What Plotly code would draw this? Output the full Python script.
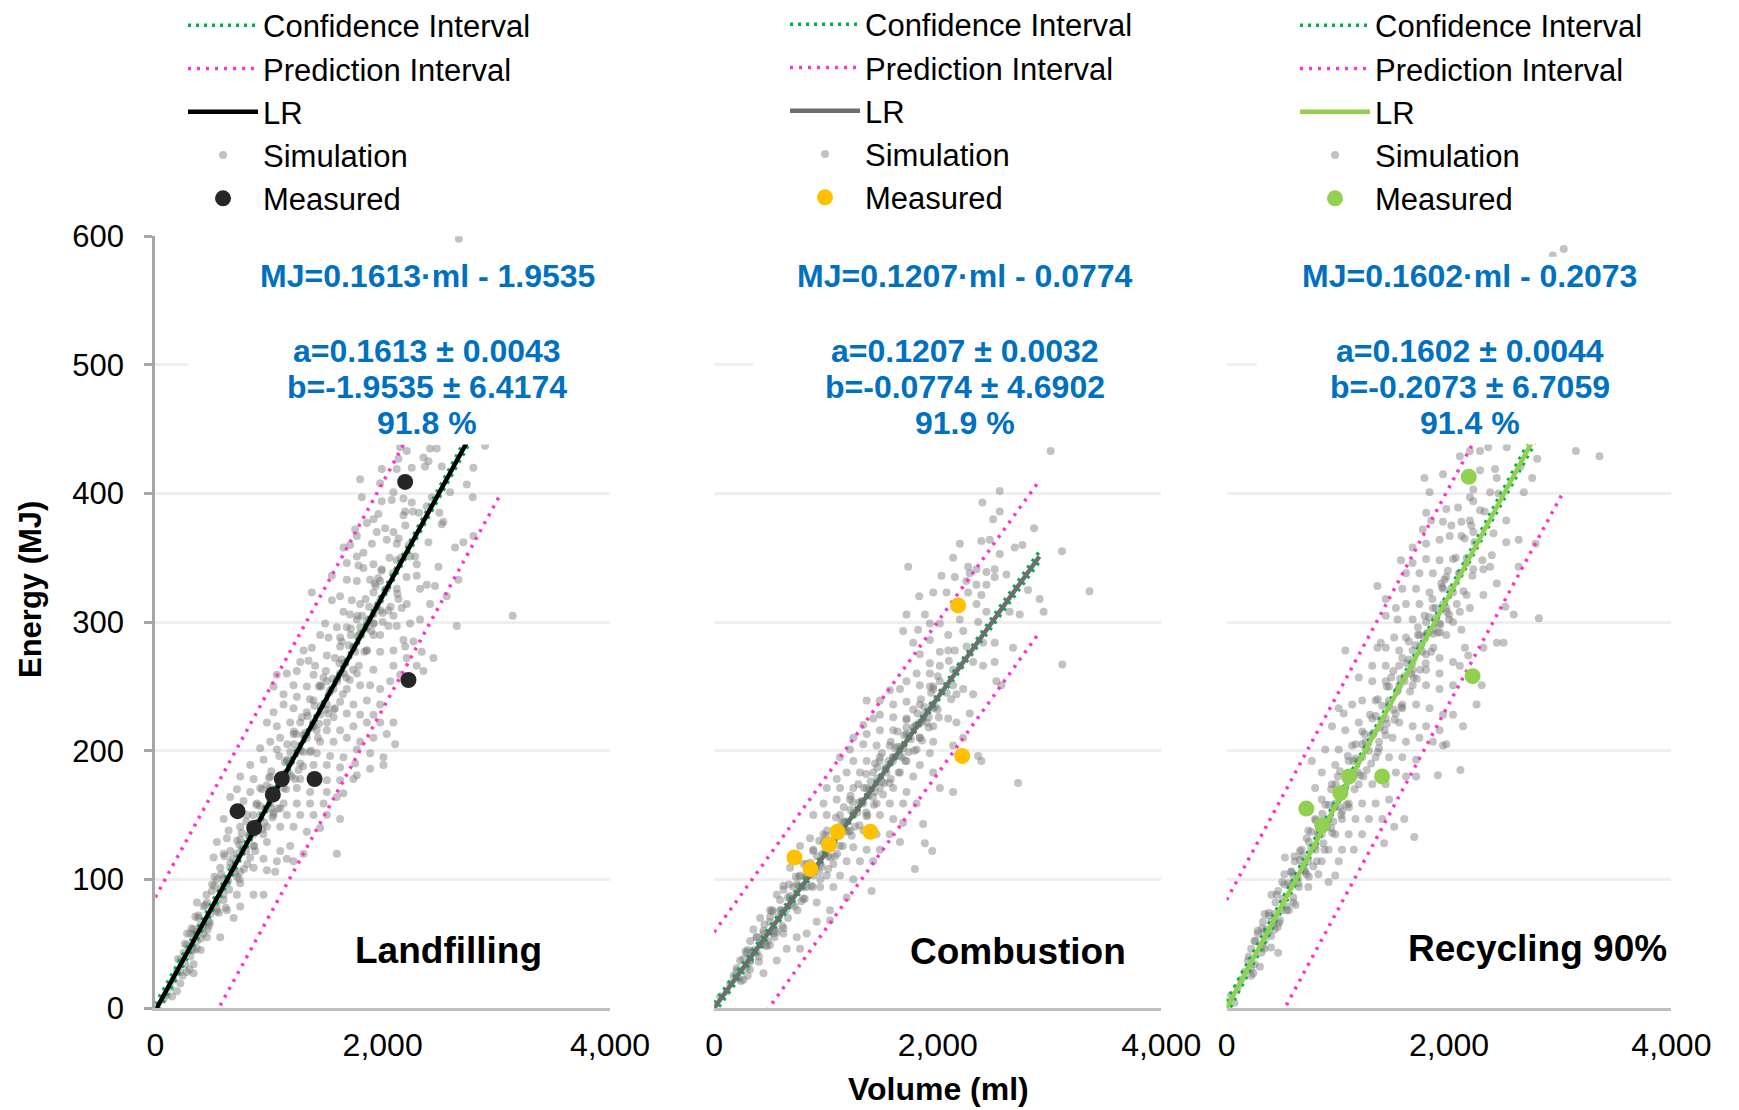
import plotly.graph_objects as go

# %% [Data]
vol_ticks = [0, 2000, 4000]
energy_ticks = [0, 100, 200, 300, 400, 500, 600]

land_sim = [
    (2670, 598),
    (2154, 436), (2212, 433), (2417, 435), (2476, 435), (2901, 437), (2139, 427), (2124, 419), (2359, 428),
    (2403, 425), (2373, 421), (1992, 419), (2256, 420), (1802, 411), (1978, 408), (2095, 401), (2183, 396),
    (2256, 393), (2080, 395), (1817, 397), (1992, 394), (2798, 420), (2740, 407), (2593, 401), (2520, 421),
    (2792, 397), (2198, 386), (2183, 383), (2265, 386), (2499, 385), (2388, 390), (2432, 397), (2520, 376),
    (2534, 378), (1963, 384), (1919, 380), (1861, 377), (2022, 373), (2095, 370), (1948, 370), (1773, 367),
    (1758, 372), (1655, 358), (1714, 360), (1831, 354), (1905, 361), (2036, 364), (2124, 361), (2241, 351),
    (2285, 351), (2403, 362), (2637, 358), (2710, 362), (2798, 367), (2491, 343), (1773, 351), (1831, 342),
    (1787, 344), (1919, 345), (1992, 341), (1685, 346), (2124, 348), (1553, 336), (1377, 323), (1553, 317),
    (1626, 320), (1685, 333), (1773, 332), (1890, 333), (1978, 332), (1919, 323), (2036, 326), (2124, 326),
    (2300, 336), (2388, 329), (2461, 328), (2139, 318), (2168, 311), (2051, 309), (1919, 306), (1802, 314),
    (1729, 317), (1655, 308), (1714, 306), (1773, 302), (1861, 300), (1978, 317), (2095, 305), (2212, 314),
    (2329, 326), (2666, 333), (2564, 320), (2417, 314), (2329, 302), (2241, 299), (2652, 297), (3144, 305),
    (1494, 299), (1450, 290), (1597, 296), (1524, 288), (1626, 288), (1685, 296), (1802, 296), (1919, 299),
    (2051, 297), (2124, 297), (1978, 290), (1377, 280), (1304, 278), (1275, 269), (1348, 270), (1406, 266),
    (1509, 274), (1626, 281), (1743, 281), (1861, 278), (1978, 277), (2095, 278), (2183, 286), (2198, 281),
    (2271, 285), (2344, 277), (2447, 272), (2359, 262), (2212, 272), (2095, 266), (1919, 263), (1773, 260),
    (1626, 260), (1509, 254), (1392, 259), (1245, 262), (1157, 260), (1069, 259), (1040, 250), (1216, 251),
    (1333, 250), (1450, 251), (1568, 248), (1685, 248), (1802, 251), (1890, 251), (1978, 248), (2066, 254),
    (2154, 259), (2300, 266), (1128, 244), (1245, 242), (1392, 239), (1509, 236), (1626, 238), (1743, 236),
    (1861, 239), (1978, 236), (1919, 228), (1802, 228), (1685, 229), (1568, 226), (1450, 228), (1333, 230),
    (1216, 233), (1128, 236), (1040, 230), (982, 222), (1069, 219), (1187, 222), (1275, 222), (1392, 219),
    (1509, 216), (1626, 216), (1743, 219), (1861, 222), (1978, 222), (2095, 222), (2036, 213), (1919, 210),
    (1802, 207), (1685, 210), (1568, 207), (1450, 207), (1333, 210), (1216, 213), (1099, 210), (1011, 207),
    (923, 202), (1069, 201), (1187, 199), (1304, 199), (1421, 198), (1538, 196), (1655, 195), (1773, 201),
    (1890, 198), (2007, 195), (2110, 205), (2007, 189), (1890, 186), (1758, 190), (1626, 187), (1509, 189),
    (1392, 189), (1275, 190), (1157, 192), (952, 193), (835, 189), (864, 178), (747, 180), (923, 171),
    (1011, 180), (1157, 183), (1275, 178), (1392, 177), (1509, 177), (1626, 177), (1743, 178), (1773, 181),
    (1655, 167), (1509, 168), (1362, 168), (1245, 171), (1128, 171), (1011, 171), (835, 168), (718, 170),
    (659, 164), (776, 161), (894, 159), (1011, 159), (1128, 159), (1245, 159), (1362, 159), (1480, 159),
    (1597, 164), (1626, 147), (1509, 150), (1392, 150), (1275, 150), (1157, 150), (1040, 150), (923, 150),
    (806, 150), (689, 152), (601, 147), (645, 138), (747, 141), (864, 135), (982, 141), (1099, 141),
    (1216, 141), (1333, 137), (1450, 140), (1597, 120), (1304, 120), (1187, 126), (1099, 122), (982, 129),
    (864, 126), (747, 131), (630, 132), (542, 129), (513, 117), (601, 120), (718, 120), (835, 117),
    (952, 116), (1069, 114), (1157, 116), (1216, 114), (571, 109), (659, 109), (747, 106), (864, 109),
    (982, 107), (1055, 106), (542, 100), (630, 97), (747, 97), (864, 88), (952, 88), (747, 79),
    (718, 88), (601, 88), (498, 91), (454, 82), (542, 82), (630, 76), (689, 70), (483, 73),
    (425, 79), (366, 82), (352, 71), (469, 67), (337, 61), (396, 64), (425, 58), (308, 58),
    (366, 52), (454, 55), (571, 55), (278, 49), (366, 46), (249, 43), (308, 40), (220, 37),
    (264, 34), (337, 34), (190, 28), (278, 28), (337, 27), (161, 22), (220, 19), (132, 16),
    (190, 13), (103, 10), (73, 7), (147, 9),
    # dense core along the fit
    (320, 62), (340, 45), (380, 70), (400, 54), (450, 88), (470, 64), (520, 95), (540, 75),
    (580, 104), (600, 84), (610, 118), (650, 92), (660, 122), (680, 108), (720, 130), (740, 100),
    (760, 124), (800, 145), (810, 112), (830, 134), (870, 126), (890, 158), (900, 144), (940, 170),
    (950, 135), (970, 155), (1020, 184), (1030, 148), (1050, 168), (1080, 155), (1090, 196), (1110, 180),
    (1150, 170), (1160, 205), (1180, 190), (1220, 215), (1230, 178), (1250, 200), (1290, 226), (1300, 188),
    (1320, 212), (1360, 240), (1370, 200), (1390, 222), (1430, 210), (1440, 250), (1460, 235), (1500, 262),
    (1510, 222), (1530, 245), (1570, 232), (1580, 272), (1600, 256), (1640, 285), (1650, 244), (1670, 268),
    (1710, 255), (1720, 295), (1740, 280), (1780, 305), (1790, 266), (1810, 290), (1850, 318), (1860, 278),
    (1880, 302), (1920, 290), (1930, 330), (1950, 312), (1990, 340), (2000, 300), (2020, 325), (2060, 350),
    (2070, 312), (2090, 338), (2130, 322), (2140, 365), (2160, 350), (2200, 375), (2210, 335), (2230, 360),
    (2300, 345), (2320, 385),
    (200, 38), (240, 25), (280, 58), (320, 45), (360, 59), (400, 45), (440, 80), (480, 66),
    (520, 102), (560, 74), (600, 101), (640, 99), (680, 116), (720, 102), (760, 136), (800, 122),
    (840, 137), (880, 122), (920, 157), (960, 144), (1000, 179), (1040, 152), (1080, 178), (1120, 177),
    (1160, 193), (1200, 180), (1240, 213), (1280, 200), (1320, 214), (1360, 199), (1400, 235), (1440, 221),
    (1480, 257), (1520, 229), (1560, 256), (1600, 254), (1640, 271), (1680, 257), (1720, 290), (1760, 277),
    (1800, 291), (1840, 277), (1880, 312), (1920, 299), (1960, 334), (2000, 307),
    (220, 28), (260, 50), (300, 30), (340, 57), (380, 72), (420, 63), (460, 61), (500, 96),
    (540, 77), (580, 93), (620, 78), (660, 113), (700, 105), (740, 127), (780, 108), (820, 134),
    (860, 150), (900, 140), (940, 139), (980, 173), (1020, 155), (1060, 170), (1100, 155), (1140, 191),
    (1180, 182), (1220, 205), (1260, 185), (1300, 212), (1340, 227), (1380, 218), (1420, 216), (1460, 250),
    (1500, 232), (1540, 247), (1580, 233), (1620, 268), (1660, 260), (1700, 282), (1740, 263), (1780, 289),
    (1820, 305), (1860, 295), (1900, 293), (1940, 328), (1980, 309),
]

comb_sim = [
    (3011, 433), (2555, 402), (2400, 393), (2555, 386), (2496, 380), (2862, 373), (2198, 361), (2391, 363),
    (2466, 364), (2689, 358), (2758, 360), (2555, 353), (3112, 355), (3359, 324), (2138, 350), (1736, 343),
    (2272, 343), (2347, 341), (2436, 339), (2510, 341), (2510, 335), (2615, 337), (2034, 336), (2153, 335),
    (2287, 338), (2257, 332), (2347, 329), (2391, 321), (2436, 329), (1960, 323), (2079, 323), (1835, 320),
    (2272, 323), (2347, 314), (2436, 308), (2362, 300), (2808, 325), (2912, 318), (2644, 308), (2734, 306),
    (2948, 308), (1885, 306), (1721, 306), (2019, 299), (2198, 302), (2228, 293), (2094, 290), (1930, 299),
    (1691, 293), (1825, 294), (1930, 286), (1781, 284), (2019, 277), (2094, 278), (2153, 278), (2257, 281),
    (2406, 284), (2510, 284), (2674, 280), (3115, 267), (2317, 269), (2406, 266), (2510, 269), (2525, 254),
    (2570, 251), (1840, 275), (1930, 268), (2019, 266), (2138, 263), (2198, 266), (1811, 260), (1930, 260),
    (2019, 254), (2138, 251), (2228, 248), (2317, 244), (2168, 244), (2079, 245), (1960, 248), (1840, 251),
    (1721, 254), (1662, 248), (1572, 247), (1483, 239), (1364, 239), (1602, 236), (1721, 238), (1840, 236),
    (1960, 233), (2094, 225), (2168, 222), (2287, 229), (2228, 210), (2138, 204), (1960, 219), (1840, 222),
    (1721, 225), (1602, 226), (1483, 228), (1423, 225), (1334, 220), (1245, 210), (1364, 213), (1483, 216),
    (1602, 216), (1721, 213), (1840, 210), (1960, 207), (1930, 198), (1811, 201), (1691, 202), (1572, 204),
    (1453, 204), (1334, 205), (1215, 201), (1126, 195), (1245, 192), (1364, 192), (1483, 195), (1602, 195),
    (1721, 192), (1840, 189), (1960, 183), (2019, 171), (2138, 168), (2362, 196), (2391, 192), (2719, 175),
    (1781, 180), (1662, 183), (1542, 183), (1423, 183), (1304, 183), (1185, 183), (1096, 178), (1007, 171),
    (1126, 171), (1245, 171), (1364, 171), (1483, 171), (1602, 171), (1721, 168), (1811, 159), (1691, 159),
    (1572, 159), (1453, 159), (1334, 159), (1215, 162), (1096, 162), (978, 159), (887, 150), (1007, 150),
    (1126, 150), (1245, 150), (1364, 149), (1483, 150), (1602, 147), (1691, 144), (1870, 143), (1662, 129),
    (1572, 135), (1453, 135), (1334, 138), (1215, 138), (1096, 137), (978, 135), (858, 132), (768, 126),
    (887, 123), (1007, 123), (1126, 126), (1245, 125), (1364, 123), (1483, 123), (1885, 128), (1951, 122),
    (1796, 108), (1423, 114), (1304, 114), (1185, 114), (1066, 112), (948, 112), (828, 112), (679, 109),
    (768, 103), (887, 103), (1007, 103), (1126, 103), (1245, 100), (1408, 91), (1185, 86), (1066, 94),
    (948, 94), (828, 94), (709, 94), (619, 95), (560, 88), (679, 85), (798, 85), (917, 82),
    (1037, 76), (1037, 68), (917, 67), (828, 58), (738, 55), (768, 46), (649, 46), (560, 37),
    (441, 27), (500, 76), (590, 76), (500, 67), (411, 70), (351, 61), (441, 58), (530, 58),
    (619, 58), (322, 52), (411, 51), (500, 49), (292, 43), (381, 43), (232, 37), (322, 37),
    (203, 31), (292, 31), (173, 25), (262, 22), (143, 19), (113, 13), (54, 9),
    # dense core along the fit
    (300, 45), (320, 30), (380, 55), (400, 40), (450, 65), (470, 48), (520, 75), (540, 55),
    (590, 84), (610, 64), (620, 92), (660, 70), (670, 96), (690, 84), (730, 102), (745, 76),
    (760, 95), (800, 112), (810, 85), (830, 102), (870, 95), (885, 122), (900, 110), (940, 130),
    (950, 100), (970, 120), (1010, 138), (1020, 108), (1040, 128), (1080, 118), (1090, 148), (1110, 136),
    (1150, 126), (1160, 156), (1180, 145), (1220, 165), (1230, 134), (1250, 152), (1290, 174), (1300, 142),
    (1320, 160), (1360, 182), (1370, 150), (1390, 170), (1430, 158), (1440, 190), (1460, 178), (1500, 198),
    (1510, 166), (1530, 186), (1570, 175), (1580, 207), (1600, 195), (1640, 215), (1650, 183), (1670, 203),
    (1710, 192), (1720, 224), (1740, 212), (1780, 232), (1790, 200), (1810, 220), (1850, 240), (1860, 208),
    (1880, 228), (1920, 218), (1930, 250), (1950, 236), (2000, 258), (2010, 226), (2100, 270), (2120, 240),
    (200, 29), (240, 21), (280, 44), (320, 36), (360, 45), (400, 36), (440, 60), (480, 52),
    (520, 76), (560, 59), (600, 76), (640, 76), (680, 87), (720, 79), (760, 102), (800, 94),
    (840, 103), (880, 94), (920, 118), (960, 110), (1000, 134), (1040, 117), (1080, 134), (1120, 134),
    (1160, 145), (1200, 137), (1240, 160), (1280, 152), (1320, 161), (1360, 152), (1400, 176), (1440, 168),
    (1480, 192), (1520, 175), (1560, 192), (1600, 192), (1640, 203), (1680, 195), (1720, 218), (1760, 209),
    (1800, 219), (1840, 210), (1880, 234), (1920, 226), (1960, 250), (2000, 232),
    (220, 23), (260, 38), (300, 25), (340, 44), (380, 55), (420, 49), (460, 49), (500, 71),
    (540, 60), (580, 71), (620, 62), (660, 86), (700, 81), (740, 96), (780, 83), (820, 102),
    (860, 113), (900, 107), (940, 106), (980, 129), (1020, 118), (1060, 129), (1100, 120), (1140, 144),
    (1180, 138), (1220, 154), (1260, 141), (1300, 160), (1340, 171), (1380, 165), (1420, 164), (1460, 187),
    (1500, 176), (1540, 187), (1580, 178), (1620, 202), (1660, 196), (1700, 212), (1740, 199), (1780, 218),
    (1820, 229), (1860, 223), (1900, 222), (1940, 245), (1980, 234),
]

recy_sim = [
    (3032, 590), (2933, 585),
    (2188, 433), (2279, 433), (2353, 436), (2520, 436), (2793, 427), (3141, 433), (3353, 429), (2097, 429),
    (1779, 412), (1825, 401), (1946, 415), (2279, 418), (2414, 419), (2430, 412), (2218, 403), (2370, 401),
    (2445, 400), (2188, 397), (2218, 394), (2672, 401), (2748, 412), (2642, 421), (1795, 385), (1976, 388),
    (2082, 389), (2279, 387), (2188, 379), (2112, 378), (2021, 375), (1946, 378), (1840, 379), (1764, 372),
    (1673, 358), (1794, 361), (1915, 364), (2006, 367), (2112, 367), (2218, 370), (2400, 369), (2515, 379),
    (2515, 362), (2627, 364), (2779, 361), (2385, 352), (2369, 343), (2309, 341), (2627, 343), (2430, 330),
    (1568, 348), (1673, 346), (1794, 349), (1915, 348), (2036, 349), (2158, 346), (2218, 341), (2097, 338),
    (1976, 335), (1855, 338), (1734, 338), (1613, 338), (1356, 328), (1431, 318), (1580, 326), (1704, 326),
    (1825, 323), (1946, 326), (2036, 323), (2158, 321), (2309, 321), (2506, 312), (2582, 306), (2808, 303),
    (2188, 311), (2097, 308), (1976, 311), (1855, 311), (1734, 314), (1613, 314), (1522, 311), (1431, 305),
    (1537, 302), (1673, 302), (1794, 300), (1915, 299), (2036, 300), (2112, 294), (1976, 290), (1855, 291),
    (1734, 290), (1613, 288), (1507, 288), (1386, 284), (1356, 280), (1068, 278), (1431, 280), (1552, 278),
    (1673, 278), (1794, 275), (1915, 272), (2036, 269), (2143, 280), (2173, 274), (2430, 284), (2491, 284),
    (2309, 280), (2097, 266), (1915, 260), (1794, 263), (1673, 263), (1552, 266), (1431, 266), (1310, 266),
    (1189, 257), (1310, 254), (1431, 254), (1552, 251), (1673, 251), (1794, 251), (1915, 248), (2036, 251),
    (2294, 251), (2248, 236), (2127, 219), (2036, 228), (1946, 228), (1825, 233), (1704, 236), (1580, 236),
    (1461, 239), (1340, 239), (1219, 239), (1129, 236), (1008, 233), (1053, 229), (947, 219), (1068, 216),
    (1189, 222), (1310, 225), (1431, 225), (1552, 222), (1673, 219), (1794, 219), (1915, 216), (1976, 205),
    (1946, 204), (1855, 207), (1734, 210), (1613, 207), (1492, 210), (1371, 207), (1250, 207), (1129, 204),
    (1008, 201), (887, 201), (766, 192), (856, 183), (977, 189), (1098, 192), (1219, 195), (1340, 195),
    (1461, 195), (1580, 195), (1704, 193), (1900, 181), (2103, 185), (1522, 183), (1613, 180), (1704, 180),
    (1431, 174), (1310, 174), (1189, 174), (1068, 171), (947, 174), (796, 171), (856, 162), (977, 159),
    (1098, 159), (1219, 159), (1340, 159), (1461, 162), (1598, 147), (1507, 141), (1401, 147), (1280, 147),
    (1159, 147), (1038, 147), (917, 147), (796, 147), (735, 138), (856, 135), (977, 135), (1098, 135),
    (1219, 135), (1688, 133), (1416, 128), (1144, 123), (1038, 123), (917, 123), (796, 126), (675, 123),
    (524, 117), (614, 114), (735, 114), (856, 114), (1008, 114), (584, 106), (705, 106), (826, 104),
    (977, 103), (554, 97), (645, 97), (735, 94), (917, 98), (463, 91), (403, 88), (508, 85),
    (599, 82), (493, 76), (433, 73), (342, 73), (403, 67), (327, 67), (433, 61), (372, 58),
    (281, 58), (251, 52), (342, 52), (463, 43), (221, 46), (312, 43), (191, 37), (251, 34),
    (160, 28), (221, 25), (130, 22), (100, 16), (39, 10), (70, 4),
    # dense core along the fit
    (320, 62), (340, 46), (380, 72), (400, 56), (450, 88), (470, 66), (520, 96), (540, 76),
    (580, 106), (600, 86), (610, 118), (650, 94), (660, 122), (680, 110), (720, 132), (740, 102),
    (760, 124), (800, 146), (810, 114), (830, 135), (870, 128), (890, 158), (900, 146), (940, 170),
    (950, 136), (970, 156), (1020, 184), (1030, 150), (1050, 170), (1080, 158), (1090, 196), (1110, 182),
    (1150, 170), (1160, 205), (1180, 192), (1220, 215), (1230, 180), (1250, 202), (1290, 228), (1300, 190),
    (1320, 213), (1360, 240), (1370, 202), (1390, 224), (1430, 212), (1440, 250), (1460, 236), (1500, 262),
    (1510, 224), (1530, 246), (1570, 234), (1580, 272), (1600, 258), (1640, 285), (1650, 246), (1670, 268),
    (1710, 256), (1720, 296), (1740, 281), (1780, 305), (1790, 268), (1810, 292), (1850, 318), (1860, 280),
    (1880, 303), (1920, 292), (1930, 330), (1950, 314), (1990, 340), (2000, 302), (2020, 326), (2060, 350),
    (2070, 314), (2090, 338), (2130, 324), (2140, 365), (2160, 350), (2200, 375), (2210, 336), (2230, 362),
    (2300, 348), (2320, 386),
    (200, 40), (240, 27), (280, 60), (320, 47), (360, 61), (400, 47), (440, 82), (480, 68),
    (520, 104), (560, 76), (600, 103), (640, 101), (680, 118), (720, 104), (760, 137), (800, 123),
    (840, 138), (880, 123), (920, 158), (960, 145), (1000, 180), (1040, 153), (1080, 179), (1120, 178),
    (1160, 194), (1200, 181), (1240, 213), (1280, 200), (1320, 214), (1360, 199), (1400, 235), (1440, 221),
    (1480, 257), (1520, 229), (1560, 256), (1600, 254), (1640, 271), (1680, 257), (1720, 290), (1760, 277),
    (1800, 291), (1840, 277), (1880, 311), (1920, 298), (1960, 333), (2000, 306),
    (220, 30), (260, 52), (300, 32), (340, 59), (380, 74), (420, 65), (460, 63), (500, 98),
    (540, 79), (580, 95), (620, 80), (660, 115), (700, 107), (740, 129), (780, 110), (820, 136),
    (860, 151), (900, 141), (940, 140), (980, 174), (1020, 156), (1060, 171), (1100, 156), (1140, 192),
    (1180, 183), (1220, 205), (1260, 185), (1300, 212), (1340, 227), (1380, 218), (1420, 216), (1460, 250),
    (1500, 232), (1540, 247), (1580, 233), (1620, 268), (1660, 260), (1700, 282), (1740, 263), (1780, 289),
    (1820, 304), (1860, 294), (1900, 292), (1940, 327), (1980, 308),
]

# measured points
land_meas_x = [724, 870, 1034, 1113, 1401, 2198, 2227]
land_meas_y = [153, 140, 166, 178, 178, 409, 255]
comb_meas_x = [718, 861, 1028, 1105, 1397, 2183, 2219]
comb_meas_y = [117, 108, 127, 137, 137, 313, 196]
recy_meas_x = [717, 859, 1023, 1101, 1398, 2178, 2212]
recy_meas_y = [155, 142, 167, 180, 180, 413, 258]

# regression line, confidence and prediction bands (read at their ends)
land_lr_x, land_lr_y = [0, 3040], [-2, 488]
land_ci_x, land_ci_hi, land_ci_lo = [0, 1500, 3040], [3, 242, 493], [-7, 238, 483]
land_pi_x, land_pi_hi, land_pi_lo = [0, 3040], [86, 576], [-90, 400]

comb_lr_x, comb_lr_y = [0, 2910], [0, 351]
comb_ci_x, comb_ci_hi, comb_ci_lo = [0, 1450, 2910], [4, 177, 355], [-4, 173, 347]
comb_pi_x, comb_pi_hi, comb_pi_lo = [0, 2910], [59, 410], [-59, 292]

recy_lr_x, recy_lr_y = [0, 3020], [0, 484]
recy_ci_x, recy_ci_hi, recy_ci_lo = [0, 1500, 3020], [5, 244, 489], [-5, 240, 478]
recy_pi_x, recy_pi_hi, recy_pi_lo = [0, 3020], [84, 568], [-84, 400]

land_text = ["MJ=0.1613·ml - 1.9535", "a=0.1613 ± 0.0043", "b=-1.9535 ± 6.4174", "91.8 %"]
comb_text = ["MJ=0.1207·ml - 0.0774", "a=0.1207 ± 0.0032", "b=-0.0774 ± 4.6902", "91.9 %"]
recy_text = ["MJ=0.1602·ml - 0.2073", "a=0.1602 ± 0.0044", "b=-0.2073 ± 6.7059", "91.4 %"]

# %% [Figure]
FONT = "Liberation Sans, Arial, sans-serif"
CI_COL = "#00B050"
PI_COL = "#FF33CC"
SIM_COL = "rgba(120,120,120,0.45)"
BLUE = "#0070C0"

# the page has an 8px body margin, so the figure starts 8px in from the window corner
OFF = 8
W, H = 1731, 1102


def fx(px):
    return (px - OFF) / W


def fy(py):
    return 1 - (py - OFF) / H


panels = [
    dict(name="Landfilling", sim=land_sim, mx=land_meas_x, my=land_meas_y, mcol="#262626", lcol="#000000",
         lr=(land_lr_x, land_lr_y), ci=(land_ci_x, land_ci_hi, land_ci_lo), pi=(land_pi_x, land_pi_hi, land_pi_lo),
         txt=land_text, tx=2393, lab_x=2576, lab_y=45, box_x0=290,
         dom=(155.3, 610.0), leg_x=183, leg_top=-1.5),
    dict(name="Combustion", sim=comb_sim, mx=comb_meas_x, my=comb_meas_y, mcol="#FFC000", lcol="#6E6E6E",
         lr=(comb_lr_x, comb_lr_y), ci=(comb_ci_x, comb_ci_hi, comb_ci_lo), pi=(comb_pi_x, comb_pi_hi, comb_pi_lo),
         txt=comb_text, tx=2243, lab_x=2720, lab_y=44, box_x0=350,
         dom=(714.2, 1161.2), leg_x=785, leg_top=-2.5),
    dict(name="Recycling 90%", sim=recy_sim, mx=recy_meas_x, my=recy_meas_y, mcol="#92D050", lcol="#92D050",
         lr=(recy_lr_x, recy_lr_y), ci=(recy_ci_x, recy_ci_hi, recy_ci_lo), pi=(recy_pi_x, recy_pi_hi, recy_pi_lo),
         txt=recy_text, tx=2185, lab_x=2798, lab_y=46.5, box_x0=270,
         dom=(1226.6, 1671.4), leg_x=1295, leg_top=-1.5),
]

fig = go.Figure()
shapes, annotations = [], []
layout = {}

for i, p in enumerate(panels):
    n = "" if i == 0 else str(i + 1)
    xa, ya = "x" + n, "y" + n
    leg = "legend" + n
    sx = [v[0] for v in p["sim"]]
    sy = [v[1] for v in p["sim"]]

    fig.add_trace(go.Scatter(x=sx, y=sy, mode="markers", name="Simulation", legend=leg, legendrank=4,
                             marker=dict(size=8, color=SIM_COL, line=dict(width=0)), xaxis=xa, yaxis=ya))
    cx, chi, clo = p["ci"]
    fig.add_trace(go.Scatter(x=cx, y=chi, mode="lines", name="Confidence Interval", legend=leg, legendrank=1,
                             line=dict(color=CI_COL, width=3.5, dash="3px,5px"), xaxis=xa, yaxis=ya))
    fig.add_trace(go.Scatter(x=cx, y=clo, mode="lines", showlegend=False, legend=leg,
                             line=dict(color=CI_COL, width=3.5, dash="3px,5px"), xaxis=xa, yaxis=ya))
    px_, phi, plo = p["pi"]
    fig.add_trace(go.Scatter(x=px_, y=phi, mode="lines", name="Prediction Interval", legend=leg, legendrank=2,
                             line=dict(color=PI_COL, width=3.5, dash="3px,6px"), xaxis=xa, yaxis=ya))
    fig.add_trace(go.Scatter(x=px_, y=plo, mode="lines", showlegend=False, legend=leg,
                             line=dict(color=PI_COL, width=3.5, dash="3px,6px"), xaxis=xa, yaxis=ya))
    fig.add_trace(go.Scatter(x=p["lr"][0], y=p["lr"][1], mode="lines", name="LR", legend=leg, legendrank=3,
                             line=dict(color=p["lcol"], width=4.5), xaxis=xa, yaxis=ya))
    fig.add_trace(go.Scatter(x=p["mx"], y=p["my"], mode="markers", name="Measured", legend=leg, legendrank=5,
                             marker=dict(size=16, color=p["mcol"], line=dict(width=0)), xaxis=xa, yaxis=ya))

    d0, d1 = p["dom"]
    layout["xaxis" + n] = dict(
        domain=[fx(d0), fx(d1)], range=[0, 4000], tickvals=vol_ticks, tickformat=",d",
        showgrid=False, zeroline=False, showline=True, linecolor="#BFBFBF", linewidth=2.5,
        ticks="", ticklabelstandoff=7, tickfont=dict(family=FONT, size=32, color="#000"),
        anchor=ya, automargin=False, fixedrange=True)
    layout["yaxis" + n] = dict(
        domain=[fy(1008), fy(236.2)], range=[0, 600], tickvals=energy_ticks,
        showgrid=True, gridcolor="#EFEFEF", gridwidth=3, zeroline=False,
        showline=(i == 0), linecolor="#A6A6A6", linewidth=3,
        ticks="outside" if i == 0 else "", ticklen=8, tickwidth=3, tickcolor="#A6A6A6",
        showticklabels=(i == 0), ticklabelstandoff=14,
        tickfont=dict(family=FONT, size=31, color="#000"), anchor=xa, automargin=False, fixedrange=True)
    layout[leg] = dict(
        x=fx(p["leg_x"]), y=fy(p["leg_top"]), xanchor="left", yanchor="top", bgcolor="rgba(0,0,0,0)",
        font=dict(family=FONT, size=31, color="#000"), itemwidth=70, tracegroupgap=0,
        traceorder="normal")

    # white box behind the fit statistics
    shapes.append(dict(type="rect", xref=xa, yref=ya, x0=p["box_x0"], x1=4000, y0=438, y1=584,
                       fillcolor="white", line=dict(width=0), layer="above"))
    for t, yv in zip(p["txt"], [569, 511, 482.5, 455]):
        annotations.append(dict(xref=xa, yref=ya, x=p["tx"], y=yv, text="<b>%s</b>" % t, showarrow=False,
                                font=dict(family=FONT, size=32, color=BLUE), xanchor="center", yanchor="middle"))
    annotations.append(dict(xref=xa, yref=ya, x=p["lab_x"], y=p["lab_y"], text="<b>%s</b>" % p["name"],
                            showarrow=False, font=dict(family=FONT, size=37, color="#000"),
                            xanchor="center", yanchor="middle"))

annotations.append(dict(xref="paper", yref="paper", x=fx(30), y=fy(590), text="<b>Energy (MJ)</b>",
                        textangle=-90, showarrow=False, font=dict(family=FONT, size=31, color="#000"),
                        xanchor="center", yanchor="middle"))
annotations.append(dict(xref="paper", yref="paper", x=fx(938), y=fy(1089), text="<b>Volume (ml)</b>",
                        showarrow=False, font=dict(family=FONT, size=32, color="#000"),
                        xanchor="center", yanchor="middle"))

fig.update_layout(
    width=W, height=H, margin=dict(l=0, r=0, t=0, b=0, autoexpand=False),
    paper_bgcolor="white", plot_bgcolor="white",
    shapes=shapes, annotations=annotations, **layout)

fig.write_html("out.html")
